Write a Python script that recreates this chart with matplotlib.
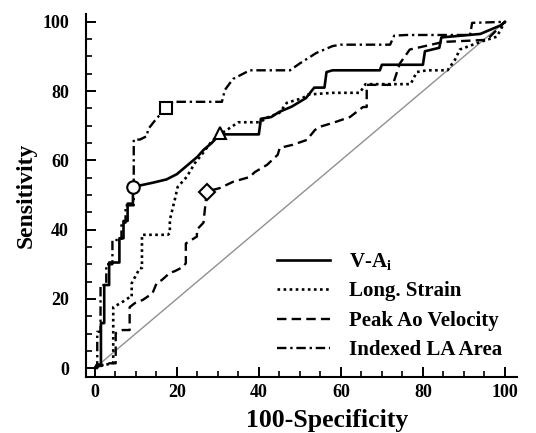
import matplotlib
matplotlib.use('Agg')
import matplotlib.pyplot as plt
from matplotlib.ticker import MultipleLocator

plt.rcParams['font.family'] = 'Liberation Serif'
plt.rcParams['font.weight'] = 'bold'
plt.rcParams['mathtext.fontset'] = 'stix'

# ROC curves (x = 100-specificity, y = sensitivity)
va_x = [0, 0.5, 1.5, 1.5, 2.3, 2.3, 3.5, 3.5, 6, 6, 7, 7, 8, 8, 9.3, 9.3, 12, 14, 17.5, 20, 22.5,
        25, 26.5, 28.5, 30.5, 40, 40.5, 43, 45, 48, 51.5, 53.5, 56, 56.5, 58, 69.5, 70, 80, 80.5,
        84, 84.5, 94, 96, 99, 100]
va_y = [0, 1, 1, 13, 13, 24, 24, 30.5, 30.5, 37.5, 37.5, 42.5, 42.5, 47.5, 47.5, 52.3, 53, 53.5,
        54.5, 56, 58.5, 61, 63, 65, 67.5, 67.5, 72, 72.5, 74, 75.5, 78, 81, 81, 85.5, 86, 86, 87.6,
        87.6, 91.5, 92.5, 95.5, 96.5, 97.5, 99, 100]

strain_x = [0, 1, 4.5, 4.5, 6.6, 8.5, 9, 9, 9.8, 11, 11.5, 11.5, 17.8, 18.3, 18.3, 19.5, 20.2,
            22.4, 24.4, 26.3, 28.5, 30.5, 33, 35, 40.2, 42, 45, 46.8, 50.7, 52, 58, 64.6, 66, 72,
            77, 78.5, 81, 86, 87.8, 89, 94, 98, 100]
strain_y = [0, 0.5, 1.5, 17.6, 19, 20.5, 20.5, 24.5, 26.3, 28.9, 28.9, 38.5, 38.5, 39, 42.8, 48.6,
            52.3, 55.2, 59.2, 62, 65.5, 67.5, 69.4, 71, 71, 72.3, 73.7, 76.6, 78, 79, 79.5, 79.5,
            82, 82, 82, 85.5, 86, 86, 89, 92, 94.2, 95.7, 100]

ao_x = [0, 0.5, 2.9, 5.1, 5.1, 6.8, 8.5, 8.5, 9.8, 11.7, 12.7, 14.1, 15.1, 16.3, 18.3, 19.5, 21.5,
        22.2, 22.2, 24.9, 24.9, 26.5, 27.3, 30.5, 33.7, 37.8, 39, 42, 44.6, 45.1, 48.3, 51.7, 53.7,
        54.9, 58, 62.2, 65.4, 66.3, 66.3, 72, 72.7, 74.4, 76.8, 85, 95.6, 100]
ao_y = [0, 0.3, 1.4, 1.4, 10.1, 11, 11, 17.6, 18.8, 19.7, 20.5, 21.7, 24.6, 25.4, 27.5, 28, 29.2,
        30.3, 36, 38, 40, 42, 51, 52, 53.8, 55.2, 56.6, 58.7, 61.6, 63.6, 64.5, 65.9, 68.8, 69.7,
        70.8, 72.5, 75.4, 75.4, 81.8, 81.8, 82, 88, 92, 94.2, 94.8, 100]

la_x = [0, 0.6, 0.6, 1.4, 1.4, 2.8, 2.8, 4.3, 4.3, 6.5, 6.5, 7.5, 7.5, 9.5, 9.5, 11, 12.7, 13, 15,
        17.3, 19, 31, 31.7, 33.7, 37.8, 47.6, 50, 54, 58, 60, 72, 73, 76, 91.5, 92, 100]
la_y = [0, 0, 10.5, 10.5, 24, 24, 30, 30, 37, 37, 42, 42, 47, 47, 66, 66, 67, 69, 72, 75, 76.9,
        76.9, 80.3, 83.5, 86, 86, 88, 91, 93, 93.4, 93.4, 96, 96.2, 96.2, 99.7, 100]

# optimal cut-off points
cut_x = [9.3, 17.3, 30.5, 27.3]
cut_y = [52.3, 75, 68, 51]
cut_marker = ['o', 's', '^', 'D']

fig = plt.figure(figsize=(5.36, 4.33), dpi=100)
ax = fig.add_axes([0.160, 0.129, 0.805, 0.839])

ax.plot([0, 100], [0, 100], color='#909090', lw=1.0, zorder=1)
ax.plot(va_x, va_y, color='black', lw=1.9, ls='-', label=r'V-A$_\mathbf{i}$')
ax.plot(strain_x, strain_y, color='black', lw=1.9, ls=(0, (1, 1.3)), label='Long. Strain')
ax.plot(ao_x, ao_y, color='black', lw=1.7, ls=(0, (4, 2.2)), label='Peak Ao Velocity')
ax.plot(la_x, la_y, color='black', lw=1.7, ls=(0, (4, 1.6, 1, 1.6)), label='Indexed LA Area')

for mx, my, mk in zip(cut_x, cut_y, cut_marker):
    ax.plot(mx, my, marker=mk, ms=9 if mk != 'D' else 8, mfc='white', mec='black', mew=1.5,
            ls='none', zorder=5)

ax.set_xlim(-2.2, 103)
ax.set_ylim(-2.6, 102.3)
ax.spines['top'].set_visible(False)
ax.spines['right'].set_visible(False)
ax.spines['left'].set_linewidth(1.5)
ax.spines['bottom'].set_linewidth(1.5)

ax.xaxis.set_major_locator(MultipleLocator(20))
ax.xaxis.set_minor_locator(MultipleLocator(5))
ax.yaxis.set_major_locator(MultipleLocator(20))
ax.yaxis.set_minor_locator(MultipleLocator(5))
ax.tick_params(which='major', direction='in', length=7, width=1.4, labelsize=13)
ax.tick_params(which='minor', direction='in', length=4, width=1.2)
ax.tick_params(axis='y', pad=12)
ax.tick_params(axis='x', pad=5)

ax.set_xlabel('100-Specificity', fontsize=18.5, fontweight='bold')
ax.xaxis.set_label_coords(0.56, -0.088)
ax.set_ylabel('Sensitivity', fontsize=17, fontweight='bold', labelpad=4)

ax.legend(loc='upper left', bbox_to_anchor=(0.425, 0.37), frameon=False, fontsize=15,
          handlelength=2.5, handletextpad=0.95, labelspacing=0.45, borderaxespad=0)

fig.savefig('out.png', dpi=100)
